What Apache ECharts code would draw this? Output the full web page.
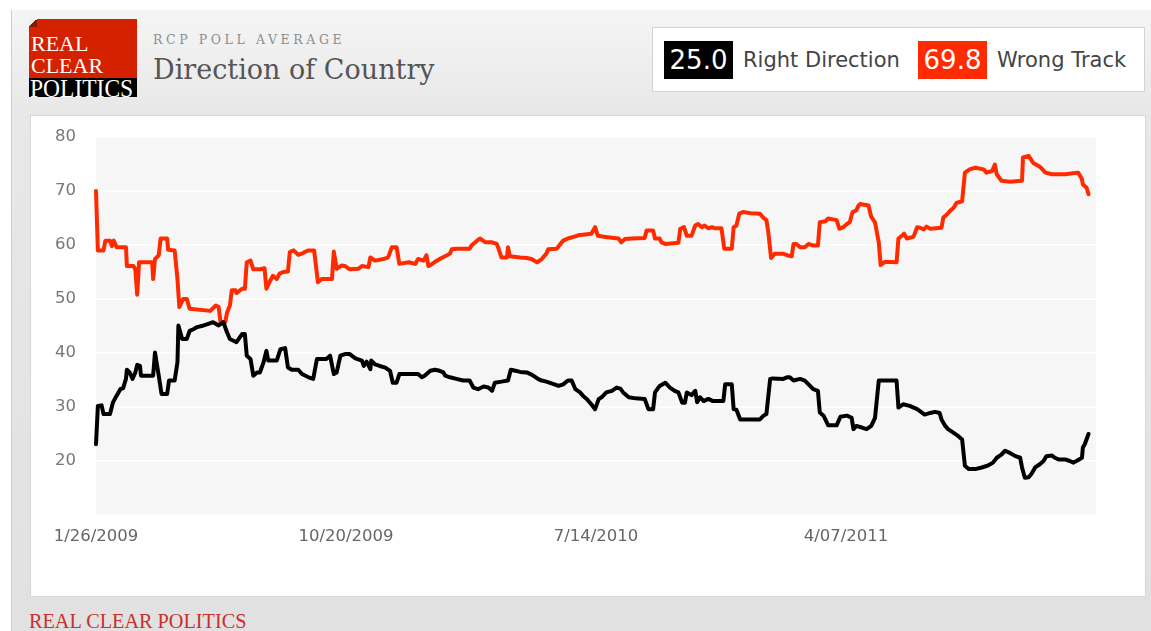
<!DOCTYPE html>
<html>
<head>
<meta charset="utf-8">
<title>Direction of Country</title>
<script src="https://cdn.jsdelivr.net/npm/echarts@6/dist/echarts.min.js"></script>
<style>
  html, body { margin: 0; padding: 0; background: #fff; }
  body { width: 1151px; height: 631px; overflow: hidden; position: relative; }
  #frame { position: absolute; left: 11px; top: 10px; right: 0; bottom: 0;
           background: linear-gradient(to bottom, #f5f5f5 0px, #e8e8e8 100px, #e1e1e1 100%);
           border-left: 1px solid #cfcfcf; }
  #logo { position: absolute; left: 29px; top: 19px; width: 108px; height: 78px; background: #d42100; overflow: hidden; }
  #logo .band { position: absolute; left: 0; top: 59px; width: 108px; height: 19px; background: #000; }
  #logo .curl { position: absolute; left: 0; top: 0; width: 8px; height: 8px;
                background: linear-gradient(135deg, #ececec 50%, #8e1500 50%); }
  #logo .t { position: absolute; left: 2px; color: #fff; font-family: "Liberation Serif", serif; white-space: nowrap;
             transform-origin: left top; }
  #sub { position: absolute; left: 153px; top: 32px; font: 12.5px "DejaVu Serif", serif; letter-spacing: 3.6px; color: #8d8d8d; }
  #title { position: absolute; left: 153px; top: 56px; font: 27px/27px "DejaVu Serif", serif; color: #555; white-space: nowrap; }
  #legend { position: absolute; left: 652px; top: 27px; width: 491px; height: 63px; background: #fff; border: 1px solid #d2d2d2; }
  .box { position: absolute; top: 13px; width: 69px; height: 38px; color: #fff; text-align: center;
         font: 26px/38px "DejaVu Sans", sans-serif; }
  .lab { position: absolute; top: 13px; height: 38px; font: 21px/38px "DejaVu Sans", sans-serif; color: #444; white-space: nowrap; }
  #panel { position: absolute; left: 30px; top: 115px; width: 1114px; height: 480px; background: #fff; border: 1px solid #d6d6d6; }
  #foot { position: absolute; left: 29px; top: 608px; font: 22px "Liberation Serif", serif; color: #c8302c; white-space: nowrap;
          transform: scaleX(0.92); transform-origin: left top; }
  #chart { position: absolute; left: 0; top: 0; width: 1151px; height: 631px; }
</style>
</head>
<body>
<div id="frame"></div>
<div id="logo">
  <div class="curl"></div>
  <div class="band"></div>
  <div class="t" style="top:14px;font-size:22px;line-height:22px;">REAL</div>
  <div class="t" style="top:36px;font-size:22px;line-height:22px;">CLEAR</div>
  <div class="t" style="top:57px;left:1px;font-size:25px;line-height:25px;transform:scaleX(0.94);">POLITICS</div>
</div>
<div id="sub">RCP POLL AVERAGE</div>
<div id="title">Direction of Country</div>
<div id="legend">
  <div class="box" style="left:11px;background:#000;">25.0</div>
  <div class="lab" style="left:90px;">Right Direction</div>
  <div class="box" style="left:265px;background:#ff2a00;">69.8</div>
  <div class="lab" style="left:344px;">Wrong Track</div>
</div>
<div id="panel"></div>
<div id="foot">REAL CLEAR POLITICS</div>
<div id="chart"></div>
<script>
window.onload = function () {
    // x values are days since 1/26/2009
    var xTickLabels = ['1/26/2009', '10/20/2009', '7/14/2010', '4/07/2011'];
    var xStep = 267;
    var yTicks = [20, 30, 40, 50, 60, 70, 80];

    // Wrong Track (red)
    var wrongTrack = [
        [0,70.0],[2,59.0],[8,59.0],[10,60.8],[15,60.8],[17,59.8],[19,60.8],[22,59.6],[32,59.6],[33,56.1],
        [40,56.1],[42,55.5],[44,50.8],[46,56.8],[60,56.8],[61,53.7],[63,57.4],[67,58.1],[69,61.2],[76,61.2],
        [77,59.1],[84,59.0],[87,53.7],[89,48.5],[93,50.0],[97,50.0],[100,48.2],[122,47.8],[128,48.8],[131,48.5],
        [133,45.7],[138,45.7],[140,47.5],[143,48.8],[145,51.6],[149,51.6],[150,51.1],[156,51.9],[159,51.9],[161,56.8],
        [165,57.1],[168,55.5],[175,55.5],[180,55.7],[182,51.9],[186,53.4],[189,54.3],[193,53.7],[196,54.7],[200,55.0],
        [205,55.1],[207,58.7],[211,59.0],[216,58.2],[220,58.4],[223,58.7],[227,59.0],[233,59.0],[237,53.1],[241,53.7],
        [252,53.7],[254,58.8],[257,55.6],[262,56.2],[266,56.1],[271,55.5],[280,55.6],[284,56.1],[291,55.9],[293,57.7],
        [298,57.1],[307,57.4],[312,57.7],[316,59.6],[321,59.6],[324,56.5],[334,56.8],[341,56.5],[344,57.4],[350,57.1],
        [353,58.1],[355,56.1],[359,56.5],[364,57.1],[369,57.6],[375,58.1],[378,58.4],[380,59.2],[385,59.3],[399,59.3],
        [401,59.9],[407,60.8],[410,61.2],[416,60.5],[423,60.5],[428,60.2],[430,59.3],[433,57.7],[439,57.7],[440,59.6],
        [442,57.9],[453,57.7],[460,57.6],[465,57.4],[471,56.8],[476,57.4],[481,58.4],[483,59.2],[492,59.3],[496,60.2],
        [499,60.8],[504,61.2],[510,61.5],[515,61.8],[520,61.9],[529,62.1],[533,63.3],[536,61.7],[544,61.5],[558,61.2],
        [561,60.5],[565,61.1],[572,61.2],[586,61.3],[588,62.7],[595,62.7],[597,61.2],[602,61.2],[604,60.5],[608,60.2],
        [622,60.4],[624,63.0],[628,63.3],[631,61.7],[636,61.7],[638,61.5],[640,63.6],[643,63.9],[647,63.3],[650,63.6],
        [654,63.1],[658,63.3],[661,63.1],[668,63.1],[671,59.3],[679,59.3],[681,63.3],[684,63.6],[687,65.8],[691,66.1],
        [699,65.9],[709,65.8],[713,65.0],[716,64.6],[718,62.4],[721,57.6],[723,57.4],[725,58.4],[734,58.4],[738,58.1],
        [743,57.9],[745,60.2],[748,60.2],[752,59.6],[757,59.6],[761,60.2],[766,59.9],[771,59.9],[773,64.2],[779,64.4],
        [782,64.9],[791,64.6],[794,63.0],[798,63.3],[802,63.9],[805,64.2],[808,66.1],[812,66.4],[814,67.2],[816,67.6],
        [825,67.3],[828,65.2],[832,64.2],[836,60.5],[838,56.3],[843,56.9],[855,56.8],[857,61.2],[860,61.6],[863,62.1],
        [866,61.2],[873,61.5],[877,63.3],[880,63.2],[884,62.9],[887,63.4],[891,63.0],[903,63.2],[905,65.1],[909,65.7],
        [912,66.3],[916,66.9],[919,67.8],[925,68.1],[928,73.4],[933,74.0],[939,74.3],[948,74.0],[951,73.4],[957,73.7],
        [960,74.9],[962,73.1],[967,71.9],[976,71.7],[989,71.9],[990,76.2],[996,76.5],[1001,75.2],[1008,74.5],[1014,73.4],
        [1021,73.1],[1028,73.1],[1035,73.1],[1049,73.4],[1053,72.2],[1054,71.2],[1058,70.6],[1060,69.4]
    ];

    // Right Direction (black)
    var rightDirection = [
        [0,23.1],[2,30.2],[6,30.3],[8,28.7],[15,28.7],[18,30.8],[22,32.1],[26,33.3],[29,33.5],[32,35.2],
        [33,36.9],[36,36.4],[39,35.2],[42,36.4],[44,37.8],[47,37.6],[48,35.8],[61,35.8],[63,40.1],[65,39.8],
        [67,35.8],[68,35.8],[70,32.4],[76,32.4],[78,34.9],[84,34.9],[87,38.3],[88,45.1],[92,42.6],[97,42.6],
        [100,44.1],[104,44.4],[108,44.8],[115,45.1],[120,45.4],[125,45.7],[131,45.1],[136,45.7],[140,43.8],[143,42.6],
        [150,42.0],[156,43.5],[159,43.5],[161,39.5],[165,38.9],[168,35.8],[172,36.4],[175,36.4],[179,38.3],[182,40.4],
        [184,38.6],[193,38.6],[197,40.7],[202,40.9],[205,37.3],[209,36.9],[216,36.9],[220,36.1],[227,35.5],[232,35.2],
        [236,38.9],[246,38.9],[250,39.5],[254,36.1],[257,36.4],[261,39.5],[266,39.8],[271,39.8],[277,39.0],[284,38.6],
        [286,37.6],[289,38.4],[293,37.0],[294,38.6],[298,37.9],[303,37.6],[309,37.3],[314,36.7],[317,34.5],[321,34.5],
        [324,36.1],[344,36.1],[348,35.5],[351,35.8],[353,36.1],[357,36.7],[362,36.9],[367,36.7],[371,36.4],[373,35.8],
        [378,35.5],[385,35.2],[392,34.9],[399,34.9],[403,33.6],[408,33.3],[414,33.8],[419,33.6],[423,33.0],[426,34.5],
        [433,34.7],[440,34.9],[443,36.9],[448,36.7],[453,36.5],[460,36.4],[464,36.1],[467,35.8],[472,35.2],[476,34.9],
        [481,34.7],[488,34.3],[494,33.9],[499,34.2],[504,34.9],[508,34.9],[512,33.3],[517,32.7],[520,32.1],[524,31.5],
        [529,30.5],[533,29.6],[537,31.5],[540,31.8],[545,32.7],[551,33.0],[556,33.6],[560,33.4],[563,32.7],[569,31.8],
        [576,31.6],[586,31.5],[590,29.6],[595,29.6],[597,32.7],[602,33.9],[608,34.5],[613,33.6],[618,33.0],[622,32.7],
        [626,30.8],[629,30.8],[631,32.7],[636,32.2],[640,33.0],[642,30.9],[645,31.8],[649,31.1],[654,31.5],[659,31.1],
        [670,31.1],[672,34.2],[679,34.2],[681,29.6],[684,29.5],[688,27.7],[704,27.7],[709,27.7],[713,28.4],[716,28.7],
        [720,35.2],[723,35.3],[734,35.2],[738,35.5],[741,35.5],[745,34.9],[752,35.2],[757,34.9],[761,34.2],[766,33.3],
        [771,33.0],[773,29.0],[777,28.4],[782,26.6],[791,26.6],[795,28.2],[802,28.4],[807,28.0],[809,25.9],[812,26.5],
        [818,26.2],[823,25.9],[828,26.5],[832,28.0],[836,34.9],[841,34.9],[855,34.9],[857,29.9],[862,30.5],[869,30.2],
        [877,29.6],[885,28.6],[891,28.9],[896,29.1],[901,28.9],[903,27.7],[907,26.5],[910,25.9],[916,25.2],[921,24.6],
        [925,24.0],[928,19.1],[932,18.5],[939,18.5],[946,18.8],[953,19.2],[958,19.7],[962,20.6],[967,21.2],[971,21.9],
        [976,21.5],[982,20.9],[987,20.6],[989,18.8],[992,16.9],[996,17.0],[999,17.6],[1003,18.8],[1008,19.4],[1012,20.0],
        [1015,20.9],[1021,21.0],[1024,20.6],[1028,20.3],[1035,20.3],[1040,20.0],[1044,19.7],[1049,20.2],[1053,20.6],[1054,22.5],
        [1056,23.1],[1058,23.4],[1060,25.0]
    ];

    var option = {
        animation: false,
        grid: {
            left: 96, right: 55, top: 137, bottom: 116,
            show: true, backgroundColor: '#f6f6f6', borderWidth: 0
        },
        xAxis: {
            type: 'value',
            min: 0, max: xStep * 4, interval: xStep,
            axisLine: { show: false },
            axisTick: { show: false },
            splitLine: { show: false },
            axisLabel: {
                margin: 13,
                color: '#666',
                fontFamily: 'DejaVu Sans',
                fontSize: 16.5,
                formatter: function (v) { return xTickLabels[Math.round(v / xStep)] || ''; }
            }
        },
        yAxis: {
            type: 'value',
            min: 10, max: 80, interval: 10,
            axisLine: { show: false },
            axisTick: { show: false },
            splitLine: { lineStyle: { color: '#ffffff', width: 1.5 } },
            axisLabel: {
                margin: 20,
                padding: [3, 0, 0, 0],
                color: '#777',
                fontFamily: 'DejaVu Sans',
                fontSize: 16.5,
                formatter: function (v) { return yTicks.indexOf(v) >= 0 ? String(v) : ''; }
            }
        },
        series: [
            {
                name: 'Wrong Track', type: 'line', data: wrongTrack,
                showSymbol: false, symbol: 'none',
                lineStyle: { color: '#ff2a00', width: 4, join: 'round', cap: 'round' }
            },
            {
                name: 'Right Direction', type: 'line', data: rightDirection,
                showSymbol: false, symbol: 'none',
                lineStyle: { color: '#000000', width: 4, join: 'round', cap: 'round' }
            }
        ]
    };
    var myChart = echarts.init(document.getElementById('chart'));
    myChart.setOption(option);
};
</script>
</body>
</html>
